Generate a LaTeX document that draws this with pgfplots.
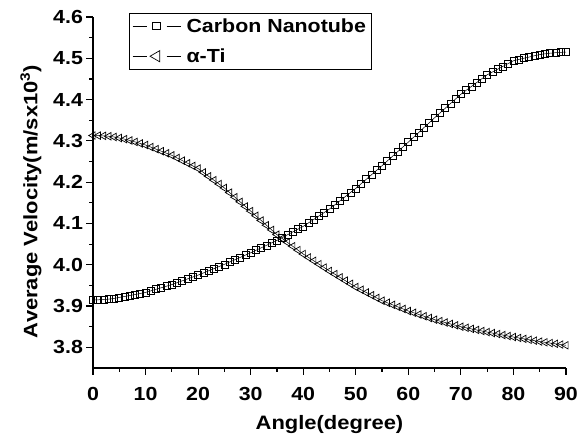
\documentclass[border=0pt]{standalone}
\usepackage{pgfplots}
\pgfplotsset{compat=1.18}
\usepackage{fontspec}
\setmainfont{Liberation Sans}[FakeStretch=1.13]
\begin{document}
\pgfplotstableread{
a v
0 3.915
1 3.9152
2 3.9158
3 3.9168
4 3.9184
5 3.921
6 3.9232
7 3.9255
8 3.928
9 3.9305
10 3.933
11 3.9368
12 3.9406
13 3.9444
14 3.9482
15 3.952
16 3.9566
17 3.9612
18 3.9658
19 3.9704
20 3.975
21 3.9802
22 3.9854
23 3.9906
24 3.9958
25 4.001
26 4.0066
27 4.0122
28 4.0178
29 4.0234
30 4.029
31 4.035
32 4.041
33 4.047
34 4.053
35 4.059
36 4.0658
37 4.0726
38 4.0794
39 4.0862
40 4.093
41 4.1014
42 4.1098
43 4.1182
44 4.1266
45 4.135
46 4.145
47 4.155
48 4.165
49 4.175
50 4.185
51 4.196
52 4.207
53 4.218
54 4.229
55 4.240
56 4.2514
57 4.2628
58 4.2742
59 4.2856
60 4.297
61 4.3088
62 4.3206
63 4.3324
64 4.3442
65 4.356
66 4.3674
67 4.3788
68 4.3902
69 4.4016
70 4.413
71 4.4224
72 4.4318
73 4.4412
74 4.4506
75 4.460
76 4.4668
77 4.4736
78 4.4804
79 4.4872
80 4.494
81 4.4972
82 4.5002
83 4.5030
84 4.5062
85 4.509
86 4.5108
87 4.5124
88 4.5136
89 4.5145
90 4.515
}\cnt
\pgfplotstableread{
a v
0 4.313
1 4.3128
2 4.3122
3 4.3112
4 4.3095
5 4.307
6 4.3042
7 4.301
8 4.2975
9 4.2938
10 4.290
11 4.285
12 4.280
13 4.275
14 4.270
15 4.265
16 4.2586
17 4.2522
18 4.2458
19 4.2394
20 4.233
21 4.2236
22 4.2142
23 4.2048
24 4.1954
25 4.186
26 4.1748
27 4.1636
28 4.1524
29 4.1412
30 4.130
31 4.1186
32 4.1072
33 4.0958
34 4.0844
35 4.073
36 4.0636
37 4.0542
38 4.0448
39 4.0354
40 4.026
41 4.0178
42 4.0096
43 4.0014
44 3.9932
45 3.985
46 3.9772
47 3.9694
48 3.9616
49 3.9538
50 3.946
51 3.9394
52 3.9328
53 3.9262
54 3.9196
55 3.913
56 3.908
57 3.903
58 3.898
59 3.893
60 3.888
61 3.8838
62 3.8796
63 3.8754
64 3.8712
65 3.867
66 3.8636
67 3.8602
68 3.8568
69 3.8534
70 3.850
71 3.8474
72 3.8448
73 3.8422
74 3.8396
75 3.837
76 3.8346
77 3.8322
78 3.8298
79 3.8274
80 3.825
81 3.8228
82 3.8206
83 3.8184
84 3.8162
85 3.814
86 3.8122
87 3.8104
88 3.8086
89 3.8068
90 3.805
}\ti
\begin{tikzpicture}
\useasboundingbox (-93bp,-73bp) rectangle (492bp,368bp);
\begin{axis}[
  scale only axis,
  width=473bp, height=351bp,
  xmin=0, xmax=90, ymin=3.75, ymax=4.6,
  axis x line*=bottom, axis y line*=left,
  axis line style={line width=1.3bp, -},
  tick style={line width=1.2bp, black},
  tick align=outside,
  major tick length=6.5bp, minor tick length=3.5bp,
  xtick={0,10,...,90}, ytick={3.8,3.9,...,4.6},
  minor tick num=1,
  /pgf/number format/assume math mode=true,
  yticklabel style={/pgf/number format/.cd, fixed, fixed zerofill, precision=1},
  xticklabel style={yshift=-9bp},
  ticklabel style={font=\bfseries\fontsize{19}{21}\selectfont},
  label style={font=\bfseries\fontsize{19.5}{21}\selectfont},
  xlabel={Angle(degree)},
  ylabel={Average Velocity(m/sx10\textsuperscript{3})},
  xlabel style={yshift=-8bp},
  ylabel style={yshift=5bp, xshift=-9bp},
  clip=false,
  legend style={at={(0.076,1.011)}, anchor=north west, draw=black, line width=0.6bp,
    font=\bfseries\fontsize{19}{21}\selectfont, inner xsep=3bp, inner ysep=3bp,
    row sep=11bp, cells={anchor=west}},
  legend image code/.code={
    \path[draw=none] (0bp,-3bp) rectangle (52bp,3bp);
    \draw[black, line width=0.6bp] (0bp,0bp) -- (14bp,0bp);
    \draw[black, line width=0.6bp] (34bp,0bp) -- (48bp,0bp);
    \begin{scope}[shift={(24bp,0bp)}]
      \draw[#1, only marks] plot coordinates {(0bp,0bp)};
    \end{scope}
  },
]
\addplot[black, line width=0.5bp, mark=square, mark size=3.5bp, mark options={line width=0.7bp, fill=none},
  legend image post style={mark size=3.8bp}] table[x=a,y=v] {\cnt};
\addlegendentry{Carbon Nanotube}
\addplot[black, line width=0.5bp, mark=triangle, mark size=4.3bp, mark options={rotate=90, line width=0.7bp, fill=none},
  legend image post style={mark size=6.5bp}] table[x=a,y=v] {\ti};
\addlegendentry{α-Ti}
\end{axis}
\end{tikzpicture}
\end{document}
